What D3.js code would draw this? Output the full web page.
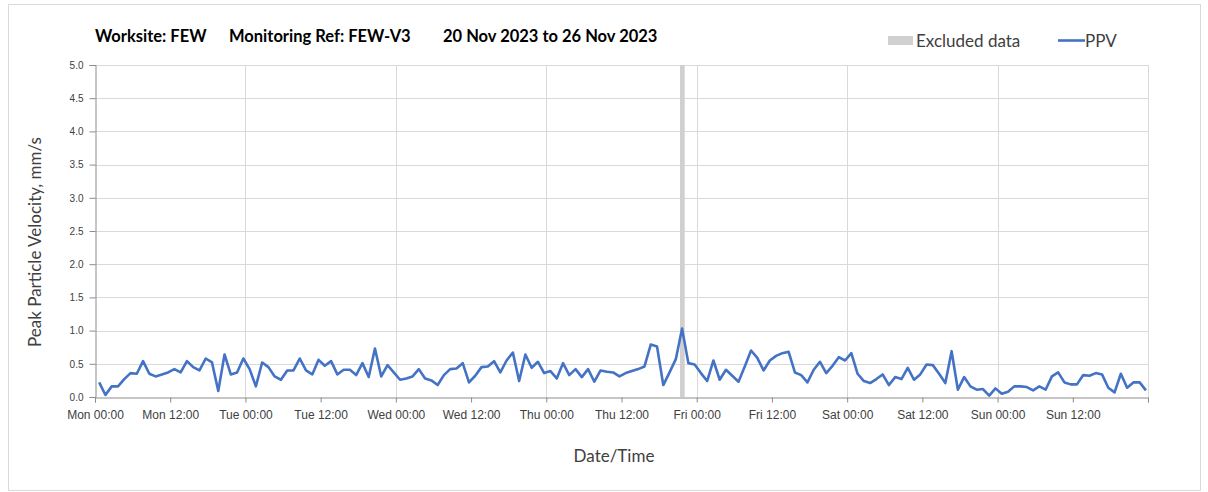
<!DOCTYPE html>
<html>
<head>
<meta charset="utf-8">
<script src="https://cdn.jsdelivr.net/npm/d3@7"></script>
<style>
  body { margin: 0; background: #fff; }
  svg { display: block; font-family: Lato, "Open Sans", sans-serif; }
</style>
</head>
<body>
<div class="canvas"></div>
<script>
// Hourly PPV readings (mm/s)
const startTime = new Date(2023, 10, 20, 0, 40);
const stepHours = 1;
const ppv = [
  0.22, 0.03, 0.16, 0.16, 0.27, 0.36, 0.35, 0.54, 0.35, 0.31,
  0.34, 0.37, 0.42, 0.37, 0.54, 0.45, 0.40, 0.58, 0.52, 0.09,
  0.64, 0.34, 0.37, 0.58, 0.42, 0.16, 0.52, 0.45, 0.31, 0.26,
  0.40, 0.40, 0.58, 0.40, 0.34, 0.56, 0.47, 0.54, 0.34, 0.41,
  0.41, 0.33, 0.51, 0.30, 0.73, 0.31, 0.48, 0.37, 0.26, 0.28,
  0.31, 0.42, 0.28, 0.25, 0.18, 0.33, 0.42, 0.43, 0.51, 0.22,
  0.32, 0.45, 0.46, 0.54, 0.37, 0.55, 0.67, 0.24, 0.64, 0.44,
  0.53, 0.36, 0.39, 0.28, 0.51, 0.33, 0.42, 0.30, 0.42, 0.23,
  0.40, 0.38, 0.37, 0.31, 0.36, 0.39, 0.42, 0.46, 0.79, 0.76,
  0.18, 0.37, 0.57, 1.03, 0.51, 0.49, 0.36, 0.24, 0.55, 0.26,
  0.41, 0.32, 0.23, 0.46, 0.70, 0.59, 0.40, 0.55, 0.62, 0.66,
  0.68, 0.37, 0.33, 0.22, 0.41, 0.53, 0.36, 0.47, 0.60, 0.55,
  0.66, 0.35, 0.24, 0.21, 0.27, 0.34, 0.18, 0.30, 0.27, 0.44,
  0.26, 0.34, 0.49, 0.48, 0.35, 0.21, 0.69, 0.11, 0.30, 0.16,
  0.11, 0.12, 0.02, 0.13, 0.05, 0.08, 0.16, 0.16, 0.15, 0.10,
  0.16, 0.11, 0.31, 0.37, 0.22, 0.19, 0.19, 0.33, 0.32, 0.36,
  0.34, 0.14, 0.07, 0.35, 0.14, 0.22, 0.22, 0.10
];

// Excluded data window
const excluded = [new Date(2023, 10, 23, 21, 20), new Date(2023, 10, 23, 22, 5)];

const xDomain = [new Date(2023, 10, 20, 0, 0), new Date(2023, 10, 27, 0, 0)];
const yTicks = [0, 0.5, 1, 1.5, 2, 2.5, 3, 3.5, 4, 4.5, 5];

const titleParts = ["Worksite: FEW", "Monitoring Ref: FEW-V3", "20 Nov 2023 to 26 Nov 2023"];
const legendLabels = ["Excluded data", "PPV"];

const data = ppv.map((v, i) => ({
  time: d3.timeHour.offset(startTime, i * stepHours),
  value: v
}));

const dims = { width: 1208, height: 492 };
const plot = { left: 95, right: 1148, top: 65, bottom: 397 };

const svg = d3
  .select(".canvas")
  .append("svg")
  .attr("width", dims.width)
  .attr("height", dims.height);

// outer chart border
svg
  .append("rect")
  .attr("x", 8.5)
  .attr("y", 4.5)
  .attr("width", 1192)
  .attr("height", 486)
  .attr("fill", "none")
  .attr("stroke", "#d9d9d9");

const x = d3.scaleTime().domain(xDomain).range([plot.left, plot.right]);
const y = d3.scaleLinear().domain([0, 5]).range([plot.bottom, plot.top]);

// gridlines
const grid = svg.append("g").attr("stroke", "#d9d9d9").attr("stroke-width", 1);
grid
  .selectAll("line.h")
  .data(yTicks.slice(1))
  .enter()
  .append("line")
  .attr("x1", plot.left)
  .attr("x2", plot.right)
  .attr("y1", (d) => Math.round(y(d)) + 0.5)
  .attr("y2", (d) => Math.round(y(d)) + 0.5);
grid
  .selectAll("line.v")
  .data(d3.timeDay.range(d3.timeDay.offset(xDomain[0], 1), d3.timeDay.offset(xDomain[1], 1)))
  .enter()
  .append("line")
  .attr("x1", (d) => Math.round(x(d)) + 0.5)
  .attr("x2", (d) => Math.round(x(d)) + 0.5)
  .attr("y1", plot.top)
  .attr("y2", plot.bottom);

// excluded data band
svg
  .append("rect")
  .attr("x", x(excluded[0]))
  .attr("y", plot.top)
  .attr("width", x(excluded[1]) - x(excluded[0]))
  .attr("height", plot.bottom - plot.top)
  .attr("fill", "#d0d0d0");

// y axis
const yAxis = svg
  .append("g")
  .attr("transform", `translate(${plot.left + 0.5},0)`)
  .call(d3.axisLeft(y).tickValues(yTicks).tickFormat(d3.format(".1f")).tickSize(6).tickPadding(6));
yAxis.select(".domain").attr("stroke", "#8c8c8c");
yAxis.selectAll(".tick line").attr("stroke", "#8c8c8c");
yAxis
  .selectAll(".tick text")
  .attr("fill", "#404040")
  .style("font-size", "10px");

// x axis
const xTickVals = d3.timeHour.every(12).range(xDomain[0], d3.timeHour.offset(xDomain[1], 1));
const fmt = d3.timeFormat("%a %H:%M");
const xAxis = svg
  .append("g")
  .attr("transform", `translate(0,${plot.bottom + 0.5})`)
  .call(
    d3.axisBottom(x)
      .tickValues(xTickVals)
      .tickFormat((d) => (+d === +xDomain[1] ? "" : fmt(d)))
      .tickSize(5)
      .tickPadding(8)
  );
xAxis.select(".domain").attr("stroke", "#8c8c8c");
xAxis.selectAll(".tick line").attr("stroke", "#8c8c8c");
xAxis
  .selectAll(".tick text")
  .attr("fill", "#404040")
  .style("font-size", "12px");

// PPV line
const line = d3
  .line()
  .x((d) => x(d.time))
  .y((d) => y(d.value));

svg
  .append("path")
  .datum(data)
  .attr("fill", "none")
  .attr("stroke", "#4472c4")
  .attr("stroke-width", 2.6)
  .attr("stroke-linejoin", "round")
  .attr("d", line);

// title
const titleX = [95, 229, 443];
svg
  .append("g")
  .selectAll("text")
  .data(titleParts)
  .enter()
  .append("text")
  .attr("x", (d, i) => titleX[i])
  .attr("y", 42)
  .attr("fill", "#000")
  .style("font-size", "16.5px")
  .style("font-weight", "bold")
  .text((d) => d);

// legend
const legend = svg.append("g");
legend
  .append("rect")
  .attr("x", 888)
  .attr("y", 36)
  .attr("width", 25)
  .attr("height", 9)
  .attr("fill", "#d0d0d0");
legend
  .append("text")
  .attr("x", 916)
  .attr("y", 47)
  .attr("fill", "#404040")
  .style("font-size", "17px")
  .text(legendLabels[0]);
legend
  .append("line")
  .attr("x1", 1058)
  .attr("x2", 1085)
  .attr("y1", 40.5)
  .attr("y2", 40.5)
  .attr("stroke", "#4472c4")
  .attr("stroke-width", 2.6);
legend
  .append("text")
  .attr("x", 1085)
  .attr("y", 47)
  .attr("fill", "#404040")
  .style("font-size", "17px")
  .text(legendLabels[1]);

// axis titles
svg
  .append("text")
  .attr("transform", "translate(41,242) rotate(-90)")
  .attr("text-anchor", "middle")
  .attr("fill", "#404040")
  .style("font-size", "17px")
  .text("Peak Particle Velocity, mm/s");

svg
  .append("text")
  .attr("x", 614)
  .attr("y", 462)
  .attr("text-anchor", "middle")
  .attr("fill", "#404040")
  .style("font-size", "17px")
  .text("Date/Time");
</script>
</body>
</html>
